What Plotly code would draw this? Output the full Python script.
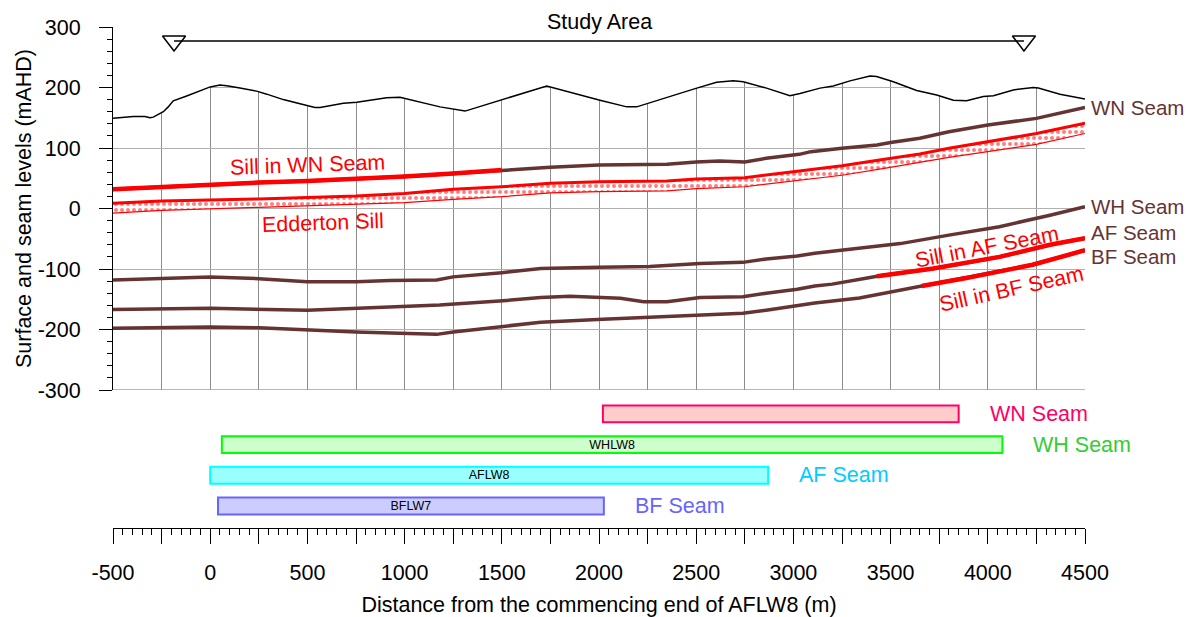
import plotly.graph_objects as go

FONT = "Liberation Sans, Arial, sans-serif"
BROWN = "#663333"
RED = "#FF0000"
FS = 21.5

# ---------------- data ----------------
surf_x = [-500, -395, -335, -310, -293, -267, -241, -216, -190, -121, -52, 0, 50, 85, 153, 239, 291,
          376, 462, 539, 565, 633, 685, 754, 839, 908, 976, 1079, 1182, 1311, 1491, 1731, 2005, 2143,
          2194, 2348, 2503, 2605, 2691, 2742, 2862, 2982, 3034, 3137, 3205, 3291, 3394, 3428, 3514,
          3634, 3737, 3823, 3891, 3977, 4029, 4131, 4234, 4260, 4371, 4500]
surf_y = [149, 152, 152, 150, 151, 156, 160, 168, 178, 186, 195, 201, 204, 203, 199, 194, 189,
          180, 173, 167, 167, 171, 174, 175.5, 179, 183, 184, 176.5, 168, 161, 179, 202.5, 179, 168,
          168, 184, 199, 208.5, 211, 209.5, 199, 186.5, 190, 199, 202.5, 211, 219, 218, 209.5,
          195, 187.5, 179, 178, 185, 186.5, 196, 200, 199, 189, 181]

wn_x = [-500, -250, 0, 250, 500, 750, 1000, 1250, 1500, 1750, 2000, 2250, 2350, 2500, 2620, 2750,
        2860, 3030, 3090, 3250, 3430, 3500, 3650, 3800, 4000, 4250, 4500]
wn_y = [32, 36, 39, 43, 45.5, 49, 53, 58, 63.5, 68, 72, 72, 73, 77, 78.5, 77,
        83, 89.5, 94, 99.5, 105, 109, 116, 127, 138, 149, 167]

edd_top_x = [-500, -250, 250, 750, 1000, 1250, 1500, 1750, 2000, 2350, 2500, 2750, 3030, 3250,
             3460, 3650, 3800, 4000, 4250, 4500]
edd_top_y = [8.6, 12.4, 15.7, 20.7, 25, 31.7, 36, 41.7, 44.3, 45.5, 48.8, 51, 62, 70.7,
             81, 90, 99.5, 110, 124, 141]
edd_bot_x = [-500, -250, 250, 750, 1000, 1250, 1500, 1750, 2000, 2350, 2500, 2750, 3030, 3250,
             3460, 3800, 4250, 4500]
edd_bot_y = [-7.5, -3, 2, 7, 9.6, 15, 19.5, 26, 27.8, 29, 33, 36, 47, 55,
             66, 84.6, 106, 124]

wh_x = [-500, -250, 0, 250, 500, 750, 925, 1165, 1250, 1500, 1700, 2000, 2260, 2520, 2740, 2860,
        3020, 3110, 3260, 3400, 3550, 3800, 4060, 4320, 4500]
wh_y = [-118, -115, -113, -116, -121, -121, -119, -118, -113, -106, -99, -97, -96, -91, -89, -83.5,
        -78.5, -74, -69, -63, -58, -44, -30, -11, 3]

af_x = [-500, 0, 500, 925, 1180, 1525, 1700, 1850, 2020, 2110, 2230, 2350, 2520, 2740, 2860, 3020,
        3110, 3200, 3380, 3430, 3720, 4060, 4320, 4500]
af_y = [-167, -165, -168, -162, -159.5, -152, -147, -145, -147, -148.5, -154, -154, -147, -146, -140,
        -133.5, -128, -125, -115, -112, -99, -80, -60, -49]

bf_x = [-500, 0, 250, 500, 750, 975, 1165, 1250, 1525, 1700, 2020, 2260, 2520, 2740, 2860, 3020,
        3110, 3340, 3660, 3890, 4230, 4500]
bf_y = [-198, -196, -197, -201, -204, -206, -208, -204, -195, -188, -183, -180, -176, -173, -168,
        -161, -156, -148, -128, -115, -93, -69]

# sill extents (x range where sill replaces seam)
wn_sill = (-500, 1500)
af_sill = (3430, 4500)
bf_sill = (3660, 4500)

seam_names = ["WN Seam", "WH Seam", "AF Seam", "BF Seam"]
seam_label_y = [167, 3, -40, -80]

study_x = [-186, 4186]
study_y = 277

panel_names = ["WN Seam", "WH Seam", "AF Seam", "BF Seam"]
panel_start = [2020, 60, 0, 40]
panel_end = [3850, 4075, 2870, 2025]
panel_text = ["", "WHLW8", "AFLW8", "BFLW7"]
panel_rows = [3, 2, 1, 0]
panel_fill = ["#FFCCCC", "#CCFFCC", "#99FFFF", "#CCCCFF"]
panel_line = ["#FF0066", "#00FF00", "#00FFFF", "#6666FF"]
panel_label_color = ["#FF0066", "#33CC33", "#00CCFF", "#6666FF"]

x_ticks = list(range(-500, 4501, 250))
x_ticktext = [str(v) if v % 500 == 0 else "" for v in x_ticks]
y_ticks = list(range(-300, 301, 100))
y_ticktext = [str(v) for v in y_ticks]

Y_MIN, Y_MAX = -300, 300


def subset(xs, ys, lo, hi):
    px, py = [], []
    for a, b in zip(xs, ys):
        if lo <= a <= hi:
            px.append(a)
            py.append(b)
    return px, py


fig = go.Figure()

# white sky above the surface hides the grid
fig.add_trace(go.Scatter(
    x=surf_x + surf_x[::-1], y=surf_y + [Y_MAX + 20] * len(surf_x),
    fill="toself", fillcolor="white", line=dict(width=0), mode="lines",
    hoverinfo="skip", showlegend=False))

# bottom frame line of the section (grid at -300)
fig.add_trace(go.Scatter(x=[x_ticks[0], x_ticks[-1]], y=[Y_MIN, Y_MIN], mode="lines",
                         line=dict(color="#A0A0A0", width=1.5), hoverinfo="skip",
                         showlegend=False, cliponaxis=False))

# surface
fig.add_trace(go.Scatter(x=surf_x, y=surf_y, mode="lines",
                         line=dict(color="black", width=1.5), showlegend=False))

# Edderton sill band
fig.add_trace(go.Scatter(x=edd_bot_x, y=edd_bot_y, mode="lines",
                         line=dict(color=RED, width=1.2), showlegend=False))
fig.add_trace(go.Scatter(x=edd_top_x, y=edd_top_y, mode="lines", fill="tonexty",
                         fillcolor="white",
                         fillpattern=dict(shape=".", fgcolor=RED, bgcolor="white",
                                          size=6, solidity=0.35),
                         line=dict(color=RED, width=3), showlegend=False))

# seams
for xs, ys in [(wn_x, wn_y), (wh_x, wh_y), (af_x, af_y), (bf_x, bf_y)]:
    fig.add_trace(go.Scatter(x=xs, y=ys, mode="lines",
                             line=dict(color=BROWN, width=3.5), showlegend=False))

# sills within seams
for (xs, ys), (lo, hi) in [((wn_x, wn_y), wn_sill), ((af_x, af_y), af_sill), ((bf_x, bf_y), bf_sill)]:
    sx, sy = subset(xs, ys, lo, hi)
    fig.add_trace(go.Scatter(x=sx, y=sy, mode="lines",
                             line=dict(color=RED, width=4.5), showlegend=False))

# study area
fig.add_trace(go.Scatter(x=study_x, y=[study_y] * 2, mode="lines+markers",
                         line=dict(color="black", width=1.5),
                         marker=dict(symbol="triangle-down-open", size=20, color="black",
                                     line=dict(width=1.5)),
                         showlegend=False, cliponaxis=False))

# panels
fig.add_trace(go.Bar(
    y=panel_rows, x=[e - s for s, e in zip(panel_start, panel_end)], base=panel_start,
    orientation="h", xaxis="x2", yaxis="y2", width=0.55,
    marker=dict(color=panel_fill, line=dict(color=panel_line, width=2)),
    text=panel_text, textposition="inside", insidetextanchor="middle", textangle=0,
    constraintext="none", textfont=dict(size=12.5, color="black", family=FONT),
    hoverinfo="skip", showlegend=False))

annotations = []
# seam labels on the right
for name, yv in zip(seam_names, seam_label_y):
    annotations.append(dict(x=4500, y=yv, xref="x", yref="y", text=name, showarrow=False,
                            xanchor="left", xshift=4, font=dict(size=20.5, color=BROWN)))
# panel labels
for name, e, r, c in zip(panel_names, panel_end, panel_rows, panel_label_color):
    annotations.append(dict(x=e, y=r, xref="x2", yref="y2", text=name, showarrow=False,
                            xanchor="left", xshift=29, font=dict(size=FS, color=c)))
# sill labels
sill_labels = [("Sill in WN Seam", 498, 72, -2), ("Edderton Sill", 580, -24, -2),
               ("Sill in AF Seam", 3996, -64, -11), ("Sill in BF Seam", 4124, -133, -12.5)]
for t, xv, yv, ang in sill_labels:
    annotations.append(dict(x=xv, y=yv, xref="x", yref="y", text=t, showarrow=False,
                            textangle=ang, font=dict(size=FS, color=RED)))
annotations.append(dict(x=2000, y=study_y, xref="x", yref="y", text="Study Area",
                        showarrow=False, yanchor="bottom", yshift=5,
                        font=dict(size=FS, color="black")))

# the page body has an 8px margin: figure is sized to fit the 1193x617 window
W, H = 1185, 609
fig.update_layout(
    width=W, height=H,
    margin=dict(l=105, r=108, t=19, b=89, pad=0, autoexpand=False),
    paper_bgcolor="white", plot_bgcolor="white",
    font=dict(family=FONT, size=FS, color="black"),
    xaxis=dict(domain=[0, 1], range=[-500, 4500], tickvals=x_ticks, showticklabels=False,
               ticks="", showgrid=True, gridcolor="#8C8C8C", gridwidth=1, zeroline=False,
               showline=False, anchor="y", automargin=False),
    yaxis=dict(domain=[0.2754, 1], range=[Y_MIN, Y_MAX], tickvals=y_ticks, ticktext=y_ticktext,
               ticks="outside", ticklen=13,
               tickcolor="black", showline=True, linecolor="black", linewidth=1,
               showgrid=True, gridcolor="#B0B0B0", gridwidth=1, zeroline=False,
               minor=dict(dtick=20, ticks="outside", ticklen=5, tickcolor="black", showgrid=False),
               ticklabelstandoff=14, tickfont=dict(size=FS), automargin=False,
               title=dict(text="Surface and seam levels (mAHD)", font=dict(size=FS), standoff=0),
               anchor="x"),
    xaxis2=dict(domain=[0, 1], range=[-500, 4500], tickvals=x_ticks, ticktext=x_ticktext,
                ticks="outside", ticklen=15, tickcolor="black", showline=True, linecolor="black",
                linewidth=1, showgrid=False, zeroline=False, automargin=False,
                minor=dict(dtick=50, ticks="outside", ticklen=6, tickcolor="black", showgrid=False),
                ticklabelstandoff=10, tickfont=dict(size=FS),
                title=dict(text="Distance from the commencing end of AFLW8 (m)",
                           font=dict(size=FS), standoff=14),
                anchor="y2"),
    yaxis2=dict(domain=[0, 0.27], range=[-0.717, 3.69], visible=False, anchor="x2",
                fixedrange=True),
    annotations=annotations,
    showlegend=False,
)

fig.write_html("out.html")
